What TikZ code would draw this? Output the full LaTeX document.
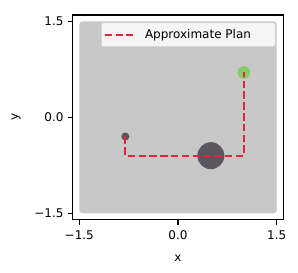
\documentclass[tikz,border=0pt]{standalone}
\usepackage{fontspec}
\setmainfont{DejaVu Sans}
\usetikzlibrary{positioning}
\definecolor{plancol}{RGB}{226,38,58}
\definecolor{areagray}{RGB}{200,200,200}
\definecolor{obstcol}{RGB}{91,85,96}
\definecolor{goalcol}{RGB}{136,204,106}

\begin{document}
\begin{tikzpicture}[
    x=1pt, y=1pt,
    every node/.style={font=\fontsize{12}{14}\selectfont},
    frame/.style={draw=black, line width=1.4pt},
    tick/.style={draw=black, line width=1.4pt},
    area/.style={fill=areagray, rounded corners=3pt},
    obst/.style={circle, fill=obstcol, inner sep=0pt, minimum size=#1},
    goal/.style={circle, fill=goalcol, inner sep=0pt, minimum size=#1},
    plan/.style={draw=plancol, line width=2.2pt, dash pattern=on 7.5pt off 3.3pt},
    legendbox/.style={draw=black!18, fill=black!4, rounded corners=2pt, line width=0.9pt,
      minimum width=174pt, minimum height=24pt, inner sep=0pt},
  ]
  \useasboundingbox (0,0) rectangle (298,273);

  \begin{scope}[shift={(178,155.7)}, x=65.8pt, y=64pt]
    % ---- workspace ----
    \fill[area] (-1.5,-1.5) rectangle (1.5,1.5);

    % ---- obstacles and goal ----
    \node[obst=8pt] (start) at (-0.8,-0.3) {};
    \node[obst=27pt] (obstacle) at (0.5,-0.6) {};
    \node[goal=12.8pt] (target) at (1.0,0.7) {};

    % ---- plan ----
    \coordinate (turn) at (-0.8,-0.6);
    \draw[plan] (start.center) -- (turn) -| (target.center);

    % ---- axes ----
    \draw[frame] (-1.6,-1.6) rectangle (1.6,1.6);
    \foreach \v/\t [count=\i] in {-1.5/{−1.5}, 0/{0.0}, 1.5/{1.5}} {
      \draw[tick] (\v,-1.6) -- ++(0,-5pt);
      \node[anchor=north, inner sep=0pt] (xt\i) at ([yshift=-10.5pt]\v,-1.6) {\t};
      \draw[tick] (-1.6,\v) -- ++(-5pt,0);
      \node[anchor=east, inner sep=0pt] (yt\i) at ([xshift=-9pt]-1.6,\v) {\t};
    }
    \node (xlabel) at (0,-2.2) {x};
    \node[rotate=90] (ylabel) at (-2.46,0) {y};

    % ---- legend ----
    \node[legendbox, anchor=north east] (legend) at ([xshift=-1pt,yshift=-1pt]1.5,1.5) {};
    \coordinate (keyl) at ([xshift=4pt]legend.west);
    \coordinate (keyr) at ([xshift=32pt]legend.west);
    \draw[plan] (keyl) -- (keyr);
    \node[anchor=west, inner sep=0pt] (legtext) at ([xshift=12pt]keyr) {Approximate Plan};
  \end{scope}
\end{tikzpicture}
\end{document}
